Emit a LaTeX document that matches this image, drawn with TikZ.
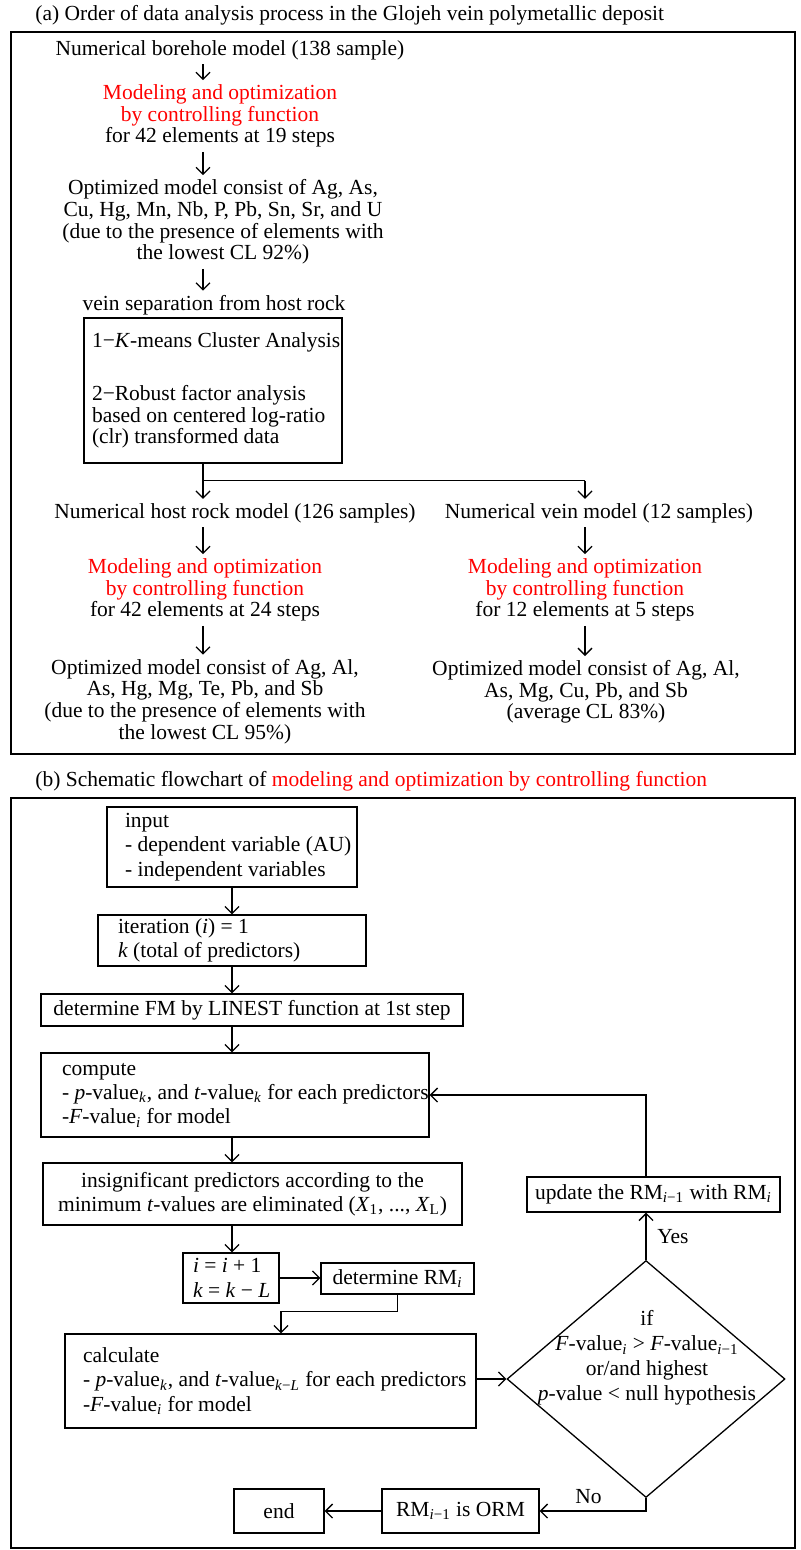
\documentclass[tikz,border=0pt]{standalone}
\usepackage{fontspec}
\setmainfont{Liberation Serif}
\usetikzlibrary{shapes.geometric, arrows.meta, positioning, calc}

\newcommand{\panelAfont}{\fontsize{10.75pt}{10.85pt}\selectfont}
\newcommand{\panelBfont}{\fontsize{10.75pt}{12.2pt}\selectfont}
\newcommand{\isub}[1]{\textsubscript{\textit{#1}}}

\begin{document}
\begin{tikzpicture}[x=0.5pt, y=-0.5pt, font=\panelBfont]
    \tikzstyle{panelframe} = [draw=black, line width=1pt]
    \tikzstyle{paneltitle} = [anchor=west, inner sep=0pt, font=\panelAfont]
    \tikzstyle{txt} = [align=center, inner xsep=0pt, inner ysep=2pt, font=\panelAfont]
    \tikzstyle{box} = [rectangle, draw=black, line width=0.65pt, inner ysep=0pt]
    \tikzstyle{lbox} = [box, align=left, inner xsep=0pt]
    \tikzstyle{cbox} = [box, align=center, inner xsep=2pt]
    \tikzstyle{decision} = [diamond, draw=black, line width=0.65pt, inner sep=0pt, minimum width=139pt, minimum height=118.5pt]
    \tikzstyle{link} = [line width=0.65pt]
    \tikzstyle{arrow} = [line width=0.65pt, ->, >={Straight Barb[length=3.5pt, width=7pt]}]
    \tikzset{textindent/.style={execute at begin node={\leftskip=#1\relax\rightskip=-20pt plus 1fil\relax\spaceskip=0pt\xspaceskip=0pt\relax}}}

    \useasboundingbox (0,0) rectangle (800,1550);

    % (a) order of the analysis
    \node (ttla) [paneltitle] at (35,15) {(a) Order of data analysis process in the Glojeh vein polymetallic deposit};
    \draw [panelframe] (11,32) rectangle (795,754);
    \coordinate (colA) at (203,0);
    \coordinate (colB) at (585,0);

    \node (bore) [txt] at (230,50) {Numerical borehole model (138 sample)};
    \node (modA) [txt] at (220,116) {\textcolor{red}{Modeling and optimization}\\\textcolor{red}{by controlling function}\\for 42 elements at 19 steps};
    \node (optA) [txt] at (223,222) {Optimized model consist of Ag, As,\\Cu, Hg, Mn, Nb, P, Pb, Sn, Sr, and U\\(due to the presence of elements with\\the lowest CL 92\%)};
    \node (vsep) [txt] at (214,305) {vein separation from host rock};
    \node (vbox) [lbox, font=\panelAfont, text width=129pt, minimum height=72.5pt, textindent=4pt] at (213,390.5) {1−\textit{K}-means Cluster Analysis\\[15.5pt]2−Robust factor analysis\\based on centered log-ratio\\(clr) transformed data};
    \node (host) [txt] at (235,513) {Numerical host rock model (126 samples)};
    \node (vein) [txt] at (599,513) {Numerical vein model (12 samples)};
    \node (modB) [txt] at (205,590) {\textcolor{red}{Modeling and optimization}\\\textcolor{red}{by controlling function}\\for 42 elements at 24 steps};
    \node (modC) [txt] at (585,590) {\textcolor{red}{Modeling and optimization}\\\textcolor{red}{by controlling function}\\for 12 elements at 5 steps};
    \node (optB) [txt] at (205,701.5) {Optimized model consist of Ag, Al,\\As, Hg, Mg, Te, Pb, and Sb\\(due to the presence of elements with\\the lowest CL 95\%)};
    \node (optC) [txt] at (586,692) {Optimized model consist of Ag, Al,\\As, Mg, Cu, Pb, and Sb\\(average CL 83\%)};

    \draw [arrow] (bore.south -| colA) -- (modA.north -| colA);
    \draw [arrow] (modA.south -| colA) -- (optA.north -| colA);
    \draw [arrow] (optA.south -| colA) -- (vsep.north -| colA);
    \draw [link] (vbox.south -| colA) -- ++(0,17) coordinate (fork) -- (fork -| colB) coordinate (forkB);
    \draw [arrow] (fork) -- (host.north -| colA);
    \draw [arrow] (forkB) -- (vein.north -| colB);
    \draw [arrow] (host.south -| colA) -- (modB.north -| colA);
    \draw [arrow] (modB.south -| colA) -- (optB.north -| colA);
    \draw [arrow] (vein.south -| colB) -- (modC.north -| colB);
    \draw [arrow] (modC.south -| colB) -- (optC.north -| colB);

    % (b) controlling function
    \node (ttlb) [paneltitle] at (35,781) {(b) Schematic flowchart of \textcolor{red}{modeling and optimization by controlling function}};
    \draw [panelframe] (11,798) rectangle (795,1548);
    \coordinate (colC) at (232,0);
    \coordinate (colD) at (281,0);

    \node (inp) [lbox, text width=125pt, minimum height=40pt, textindent=9pt] at (232,847) {input\\- dependent variable (AU)\\- independent variables};
    \node (iter) [lbox, text width=134pt, minimum height=25.5pt, textindent=10pt] at (232,940.5) {iteration (\textit{i}) = 1\\\textit{k} (total of predictors)};
    \node (fm) [cbox, minimum width=211pt, minimum height=16pt] at (252,1010) {determine FM by LINEST function at 1st step};
    \node (comp) [lbox, text width=194pt, minimum height=42pt, textindent=10.5pt] at (235,1095) {compute\\- \textit{p}-value\isub{k}, and \textit{t}-value\isub{k} for each predictors\\-\textit{F}-value\isub{i} for model};
    \node (insig) [cbox, minimum width=209.5pt, minimum height=31pt] at (252.5,1194) {insignificant predictors according to the\\minimum \textit{t}-values are eliminated (\textit{X}\textsubscript{1}, ..., \textit{X}\textsubscript{L})};
    \node (iinc) [lbox, text width=48pt, minimum height=25pt, textindent=5pt] at (231,1278) {\textit{i} = \textit{i} + 1\\\textit{k} = \textit{k} − \textit{L}};
    \node (drm) [cbox, minimum width=76.5pt, minimum height=15.5pt] at (397.5,1278.5) {determine RM\isub{i}};
    \node (calc) [lbox, text width=205.5pt, minimum height=47pt, textindent=9pt] at (270.5,1381) {calculate\\- \textit{p}-value\isub{k}, and \textit{t}-value\textsubscript{\textit{k}−\textit{L}} for each predictors\\-\textit{F}-value\isub{i} for model};
    \node (upd) [cbox, minimum width=126.5pt, minimum height=17.5pt] at (653.5,1194.5) {update the RM\textsubscript{\textit{i}−1} with RM\isub{i}};
    \node (dec) [decision] at (646,1379) {};
    \node (dectxt) [align=center, inner sep=0pt, font=\fontsize{10.75pt}{12.5pt}\selectfont] at (647,1358) {if\\\textit{F}-value\isub{i} > \textit{F}-value\textsubscript{\textit{i}−1}\\or/and highest\\\textit{p}-value < null hypothesis};
    \node (orm) [cbox, minimum width=78.5pt, minimum height=22pt] at (460.5,1511) {RM\textsubscript{\textit{i}−1} is ORM};
    \node (fin) [cbox, minimum width=45pt, minimum height=22pt] at (279,1511) {end};

    \draw [arrow] (inp.south -| colC) -- (iter.north -| colC);
    \draw [arrow] (iter.south -| colC) -- (fm.north -| colC);
    \draw [arrow] (fm.south -| colC) -- (comp.north -| colC);
    \draw [arrow] (comp.south -| colC) -- (insig.north -| colC);
    \draw [arrow] (insig.south -| colC) -- (iinc.north -| colC);
    \draw [arrow] (iinc.east) -- (iinc.east -| drm.west);
    \draw [arrow] (drm.south) -- ++(0,17) -| (calc.north -| colD);
    \draw [arrow] (calc.east |- dec.west) -- (dec.west);
    \draw [arrow] (dec.north) -- node[right, xshift=2pt] {Yes} (dec.north |- upd.south);
    \draw [arrow] (dec.north |- upd.north) |- (comp.east);
    \draw [arrow] (dec.south) |- node[pos=0.77, above] {No} (orm.east);
    \draw [arrow] (orm.west) -- (fin.east);
\end{tikzpicture}
\end{document}
